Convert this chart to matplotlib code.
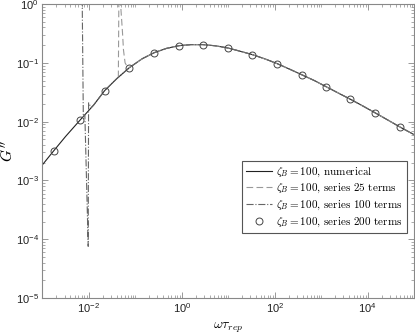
"""Loss modulus G'' vs frequency: numerical result against truncated series."""

import matplotlib
matplotlib.use('Agg')
import matplotlib.pyplot as plt
from matplotlib.ticker import LogLocator, NullFormatter

# numerical curve
omega_num = [1e-3, 1.76e-3, 3.16e-3, 6.53e-3, 1.26e-2, 2.19e-2, 3.98e-2,
             7.48e-2, 0.141, 0.256, 0.468, 0.873, 1.585, 2.88, 5.25, 9.84,
             17.8, 33.0, 63.1, 112.7, 199.5, 378, 708, 1270, 2291, 4266,
             7943, 14555, 26915, 49770, 1e5]
g_num = [1.84e-3, 3.2e-3, 5.6e-3, 1.07e-2, 1.9e-2, 3.37e-2, 5.37e-2,
         8.3e-2, 0.1175, 0.149, 0.176, 0.196, 0.204, 0.204, 0.195, 0.179,
         0.158, 0.138, 0.116, 0.097, 0.0794, 0.063, 0.0501, 0.0394, 0.0309,
         0.024, 0.0184, 0.0141, 0.0107, 0.0081, 6.0e-3]

# series with 25 terms (blows up near omega ~ 0.045)
omega_s25 = [0.0432, 0.0445, 0.0473, 0.0531, 0.0557, 0.0603, 0.0676,
             0.0748, 0.141, 0.256, 0.468, 0.873, 1.585, 2.88, 5.25, 9.84,
             17.8, 33.0, 63.1, 112.7, 199.5, 378, 708, 1270, 2291, 4266,
             7943, 14555, 26915, 49770, 1e5]
g_s25 = [0.0569, 2.0, 1.26, 0.324, 0.166, 0.1, 0.085,
         0.083, 0.1175, 0.149, 0.176, 0.196, 0.204, 0.204, 0.195, 0.179,
         0.158, 0.138, 0.116, 0.097, 0.0794, 0.063, 0.0501, 0.0394, 0.0309,
         0.024, 0.0184, 0.0141, 0.0107, 0.0081, 6.0e-3]

# series with 100 terms (blows up near omega ~ 0.009)
omega_s100 = [7.16e-3, 7.62e-3, 8.22e-3, 9.70e-3, 9.89e-3, 1.12e-2,
              1.26e-2, 2.19e-2, 3.98e-2, 7.48e-2, 0.141, 0.256, 0.468,
              0.873, 1.585, 2.88, 5.25, 9.84, 17.8, 33.0, 63.1, 112.7,
              199.5, 378, 708, 1270, 2291, 4266, 7943, 14555, 26915,
              49770, 1e5]
g_s100 = [2.0, 0.0122, 0.0132, 7.6e-5, 0.0209, 0.0174,
          1.9e-2, 3.37e-2, 5.37e-2, 8.3e-2, 0.1175, 0.149, 0.176,
          0.196, 0.204, 0.204, 0.195, 0.179, 0.158, 0.138, 0.116, 0.097,
          0.0794, 0.063, 0.0501, 0.0394, 0.0309, 0.024, 0.0184, 0.0141,
          0.0107, 0.0081, 6.0e-3]

# series with 200 terms (circles)
omega_s200 = [1.76e-3, 6.53e-3, 2.19e-2, 7.48e-2, 0.256, 0.873, 2.88, 9.84,
              33.0, 112.7, 378, 1270, 4266, 14555, 49770]
g_s200 = [3.2e-3, 1.07e-2, 3.37e-2, 8.3e-2, 0.149, 0.196, 0.204, 0.179,
          0.138, 0.097, 0.063, 0.0394, 0.024, 0.0141, 0.0081]

plt.rcParams['font.family'] = 'Liberation Sans'
plt.rcParams['mathtext.fontset'] = 'cm'
plt.rcParams['font.size'] = 8

fig = plt.figure(figsize=(4.15, 3.35), dpi=100)
ax = fig.add_axes([0.102, 0.110, 0.896, 0.878])

ax.plot(omega_num, g_num, '-', color='#222222', lw=0.8,
        label=r'$\zeta_B = 100$, numerical')
ax.plot(omega_s25, g_s25, '--', color='#999999', lw=0.8, dashes=(6, 3),
        label=r'$\zeta_B = 100$, series 25 terms')
ax.plot(omega_s100, g_s100, '-.', color='#666666', lw=0.8,
        label=r'$\zeta_B = 100$, series 100 terms')
ax.plot(omega_s200, g_s200, 'o', mfc='none', mec='#444444', ms=5, mew=0.7,
        label=r'$\zeta_B = 100$, series 200 terms')

ax.set_xscale('log')
ax.set_yscale('log')
ax.set_xlim(1e-3, 1e5)
ax.set_ylim(1e-5, 1e0)

ax.xaxis.set_major_locator(LogLocator(base=100))
ax.xaxis.set_minor_locator(LogLocator(base=10, subs=range(1, 10), numticks=50))
ax.xaxis.set_minor_formatter(NullFormatter())
ax.yaxis.set_major_locator(LogLocator(base=10, numticks=20))
ax.yaxis.set_minor_locator(LogLocator(base=10, subs=range(2, 10), numticks=50))
ax.yaxis.set_minor_formatter(NullFormatter())

ax.tick_params(which='both', direction='in', top=True, right=True,
               color='#888888', labelsize=8, labelcolor='#222222', pad=2.5)
ax.tick_params(which='major', length=4, width=0.6)
ax.tick_params(which='minor', length=2, width=0.5)
for spine in ax.spines.values():
    spine.set_color('#888888')
    spine.set_linewidth(0.8)

ax.set_xlabel(r'$\omega\tau_{rep}$', fontsize=10)
ax.xaxis.set_label_coords(0.5, -0.078)
ax.set_ylabel(r"$G''$", fontsize=11)
ax.yaxis.set_label_coords(-0.07, 0.5)

legend = ax.legend(loc='upper left', bbox_to_anchor=(0.537, 0.466),
                   prop={'family': 'cmr10', 'size': 8}, fancybox=False,
                   edgecolor='#555555', framealpha=1, borderpad=0.4,
                   labelspacing=0.3, handlelength=2.3, handletextpad=0.35,
                   borderaxespad=0)
legend.get_frame().set_linewidth(0.8)

plt.savefig('out.png', dpi=100)
